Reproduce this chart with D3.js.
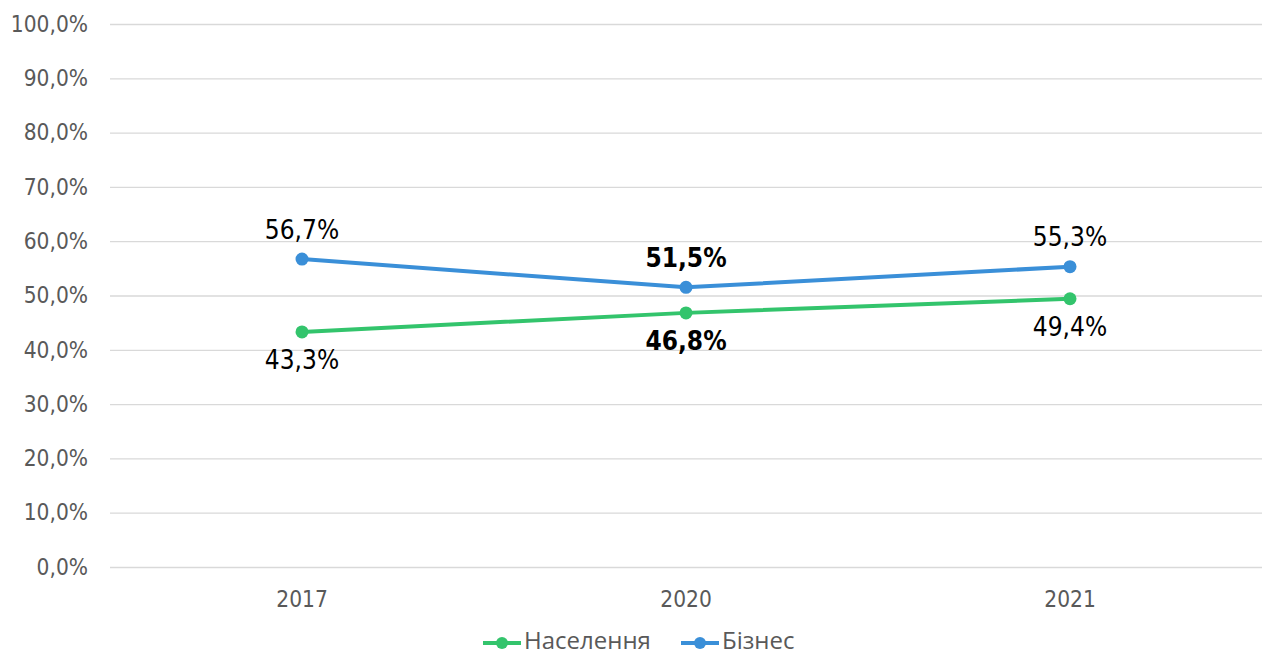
<!DOCTYPE html>
<html>
<head>
<meta charset="utf-8">
<script src="https://cdn.jsdelivr.net/npm/d3@7"></script>
<style>
  body { margin: 0; background: #fff; }
  svg { display: block; }
  .cond { font-family: 'DejaVu Sans Condensed', 'DejaVu Sans', sans-serif; font-stretch: condensed; }
</style>
</head>
<body>
<svg id="chart" width="1262" height="656"></svg>
<script>
var years = ["2017", "2020", "2021"];
var naselennia = [43.3, 46.8, 49.4];
var biznes = [56.7, 51.5, 55.3];
var boldLabels = [false, true, false];
var yTicks = [0, 10, 20, 30, 40, 50, 60, 70, 80, 90, 100];

var series = [
  { name: "Населення", values: naselennia, color: "#33c46c", below: true },
  { name: "Бізнес", values: biznes, color: "#3a8fd8", below: false }
];

var svg = d3.select("#chart");
var plotLeft = 110, plotRight = 1262, plotTop = 24, plotBottom = 567;

var x = d3.scaleBand().domain(years).range([plotLeft, plotRight]);
var y = d3.scaleLinear().domain([0, 100]).range([plotBottom, plotTop]);

var fmt = function(v, d) { return v.toFixed(d).replace(".", ","); };

// gridlines + y axis labels
var yAxis = d3.axisLeft(y).tickValues(yTicks)
  .tickSize(-(plotRight - plotLeft)).tickPadding(22)
  .tickFormat(function(d) { return fmt(d, 1) + "%"; });

var gy = svg.append("g").attr("transform", "translate(" + plotLeft + ",0)").call(yAxis);
gy.select(".domain").remove();
gy.attr("font-family", null);
gy.selectAll(".tick line").attr("stroke", "#d9d9d9").attr("stroke-width", 1.3);
gy.selectAll(".tick text").attr("fill", "#595959").attr("class", "cond")
  .style("font-size", "22.5px");

// x axis labels
var xAxis = d3.axisBottom(x).tickSize(0).tickPadding(24);
var gx = svg.append("g").attr("transform", "translate(0," + plotBottom + ")").call(xAxis);
gx.select(".domain").remove();
gx.attr("font-family", null);
gx.selectAll(".tick text").attr("fill", "#595959").attr("class", "cond")
  .style("font-size", "22.5px");

var cx = function(i) { return x(years[i]) + x.bandwidth() / 2; };

var line = d3.line()
  .x(function(d, i) { return cx(i); })
  .y(function(d) { return y(d); });

series.forEach(function(s) {
  var g = svg.append("g");
  g.append("path").datum(s.values)
    .attr("d", line)
    .attr("fill", "none")
    .attr("stroke", s.color)
    .attr("stroke-width", 4)
    .attr("stroke-linejoin", "round");

  g.selectAll("circle").data(s.values).enter().append("circle")
    .attr("cx", function(d, i) { return cx(i); })
    .attr("cy", function(d) { return y(d); })
    .attr("r", 6.5)
    .attr("fill", s.color);

  g.selectAll("text").data(s.values).enter().append("text")
    .attr("class", "cond")
    .attr("x", function(d, i) { return cx(i); })
    .attr("y", function(d) { return y(d) + (s.below ? 30 : -28); })
    .attr("text-anchor", "middle")
    .attr("dominant-baseline", "middle")
    .attr("fill", "#000")
    .style("font-size", "26px")
    .style("font-weight", function(d, i) { return boldLabels[i] ? "bold" : "normal"; })
    .text(function(d) { return fmt(d, 1) + "%"; });
});

// legend
var legendX = [483, 681];
var legend = svg.append("g");
series.forEach(function(s, i) {
  var lg = legend.append("g").attr("transform", "translate(" + legendX[i] + ",643)");
  lg.append("line").attr("x1", 0).attr("x2", 38).attr("y1", 0).attr("y2", 0)
    .attr("stroke", s.color).attr("stroke-width", 4);
  lg.append("circle").attr("cx", 19).attr("cy", 0).attr("r", 6).attr("fill", s.color);
  lg.append("text").attr("x", 41).attr("y", 0)
    .attr("dominant-baseline", "middle")
    .attr("fill", "#595959")
    .style("font-family", "'Open Sans', Roboto, sans-serif")
    .style("font-size", "24px")
    .text(s.name);
});
</script>
</body>
</html>
